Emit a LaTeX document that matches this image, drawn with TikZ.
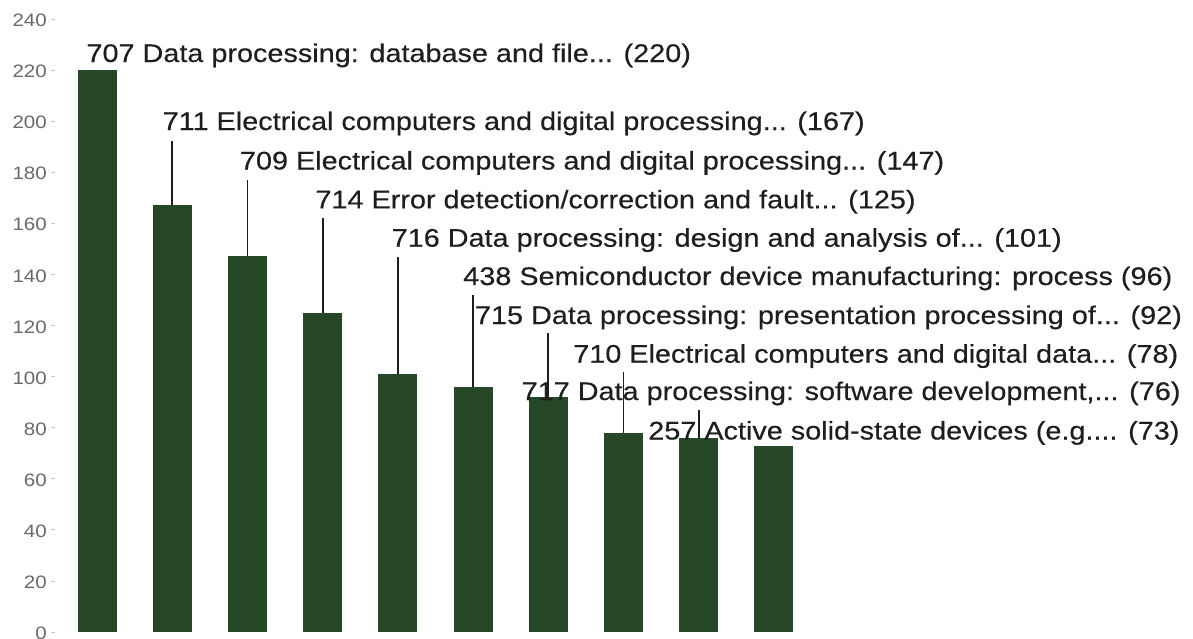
\documentclass[tikz,border=0pt]{standalone}
\usepackage{fontspec}
\newfontfamily\labfont{Liberation Sans}[FakeStretch=1.13,FakeBold=0.35]
\newfontfamily\axfont{Liberation Sans}[FakeStretch=1.14]
\definecolor{bargreen}{RGB}{38,72,38}
\definecolor{labtext}{RGB}{30,30,30}
\definecolor{axistext}{RGB}{105,105,105}
\definecolor{tickgray}{RGB}{200,200,200}
\tikzset{
  bar/.style={fill=bargreen, draw=none, minimum width=39pt, inner sep=0pt, outer sep=0pt, anchor=south, rectangle},
  lab/.style={anchor=base west, inner sep=0pt, outer sep=0pt, text=labtext, font=\labfont\fontsize{25.5}{30}\selectfont},
  ax/.style={anchor=east, inner sep=0pt, text=axistext, font=\axfont\fontsize{18}{21}\selectfont},
  seg/.style={draw=labtext, line width=1.8pt},
  tk/.style={draw=tickgray, line width=0.8pt}
}
\begin{document}
\begin{tikzpicture}[x=1pt,y=-1pt]
\useasboundingbox (0,0) rectangle (1193,638);
% axis labels and ticks
\foreach \v in {0,20,...,240}{
  \pgfmathsetmacro{\yy}{632-2.5545*\v}
  \node[ax] (t\v) at (47,\yy+1.5) {\v};
  \coordinate (ta\v) at (51,\yy);
  \coordinate (tb\v) at (55,\yy);
  \draw[tk] (ta\v) -- (tb\v);
}
% bars
\foreach \k/\v in {1/220,2/167,3/147,4/125,5/101,6/96,7/92,8/78,9/76,10/73}{
  \pgfmathsetmacro{\cx}{97+75.2*(\k-1)}
  \pgfmathsetmacro{\hh}{2.5545*\v}
  \node[bar, minimum height=\hh pt] (b\k) at (\cx,632) {};
}
% labels
\node[lab] (l1) at (86.5,62) {707 Data processing: database and file... (220)};
\node[lab] (l2) at (162.7,130) {711 Electrical computers and digital processing... (167)};
\node[lab] (l3) at (240,169.5) {709 Electrical computers and digital processing... (147)};
\node[lab] (l4) at (315.5,208.3) {714 Error detection/correction and fault... (125)};
\node[lab] (l5) at (391.7,246.7) {716 Data processing: design and analysis of... (101)};
\node[lab] (l6) at (463.3,285) {438 Semiconductor device manufacturing: process (96)};
\node[lab] (l7) at (475,324) {715 Data processing: presentation processing of... (92)};
\node[lab] (l8) at (573.3,362.7) {710 Electrical computers and digital data... (78)};
\node[lab] (l9) at (521.7,400) {717 Data processing: software development,... (76)};
\node[lab] (l10) at (648.3,439.5) {257 Active solid-state devices (e.g.... (73)};
% segment tops
\foreach \k/\t in {2/140.7,3/180,4/218.3,5/256.7,6/295,7/333,8/371.7,9/410}{
  \pgfmathsetmacro{\cx}{97+75.2*(\k-1)}
  \coordinate (s\k) at (\cx,\t);
  \draw[seg] (s\k) -- (b\k.north);
}
\end{tikzpicture}
\end{document}
